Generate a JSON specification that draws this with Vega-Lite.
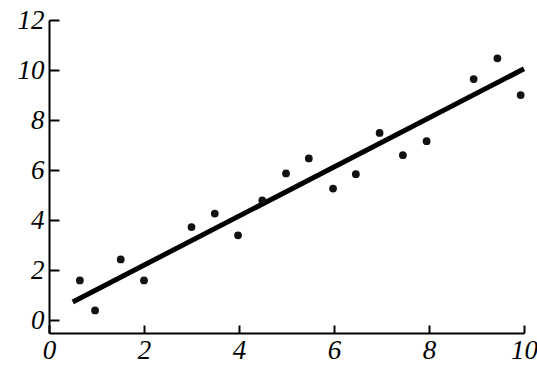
{
  "$schema": "https://vega.github.io/schema/vega-lite/v6.json",
  "autosize": "none",
  "width": 475,
  "height": 313,
  "padding": {"left": 49, "top": 20, "right": 13, "bottom": 36},
  "background": "white",
  "config": {"view": {"stroke": null}},
  "datasets": {
    "pts": [
      {"x": 0.65, "y": 1.6},
      {"x": 0.97, "y": 0.4},
      {"x": 1.51, "y": 2.44},
      {"x": 2.0, "y": 1.6},
      {"x": 3.0, "y": 3.73},
      {"x": 3.49, "y": 4.27},
      {"x": 3.98, "y": 3.4},
      {"x": 4.49, "y": 4.8},
      {"x": 4.99, "y": 5.87},
      {"x": 5.47, "y": 6.47},
      {"x": 5.98, "y": 5.27},
      {"x": 6.46, "y": 5.84},
      {"x": 6.96, "y": 7.49},
      {"x": 7.45, "y": 6.6},
      {"x": 7.95, "y": 7.16},
      {"x": 8.94, "y": 9.64},
      {"x": 9.44, "y": 10.47},
      {"x": 9.93, "y": 9.0}
    ],
    "fit": [
      {"x": 0.5, "y": 0.74},
      {"x": 10.0, "y": 10.05}
    ]
  },
  "layer": [
    {
      "data": {"name": "fit"},
      "mark": {"type": "line", "color": "black", "strokeWidth": 5, "strokeCap": "butt"},
      "encoding": {
        "x": {
          "field": "x", "type": "quantitative",
          "scale": {"domain": [0, 10], "nice": false, "zero": false},
          "axis": {
            "values": [0, 2, 4, 6, 8, 10], "title": null, "grid": false,
            "domainColor": "black", "domainWidth": 2,
            "tickColor": "black", "tickWidth": 2, "tickSize": -8,
            "labelFont": "Liberation Serif", "labelFontStyle": "italic", "labelFontSize": 27,
            "labelColor": "black", "labelPadding": 12, "labelBaseline": "top",
            "labelFlush": false, "labelOverlap": false
          }
        },
        "y": {
          "field": "y", "type": "quantitative",
          "scale": {"domain": [-0.5, 12], "nice": false, "zero": false},
          "axis": {
            "values": [0, 2, 4, 6, 8, 10, 12], "title": null, "grid": false,
            "domainColor": "black", "domainWidth": 2,
            "tickColor": "black", "tickWidth": 2, "tickSize": -10,
            "labelFont": "Liberation Serif", "labelFontStyle": "italic", "labelFontSize": 27,
            "labelColor": "black", "labelPadding": 15,
            "labelFlush": false, "labelOverlap": false
          }
        }
      }
    },
    {
      "data": {"name": "pts"},
      "mark": {"type": "circle", "color": "#111111", "size": 60, "opacity": 1},
      "encoding": {
        "x": {"field": "x", "type": "quantitative"},
        "y": {"field": "y", "type": "quantitative"}
      }
    }
  ]
}
